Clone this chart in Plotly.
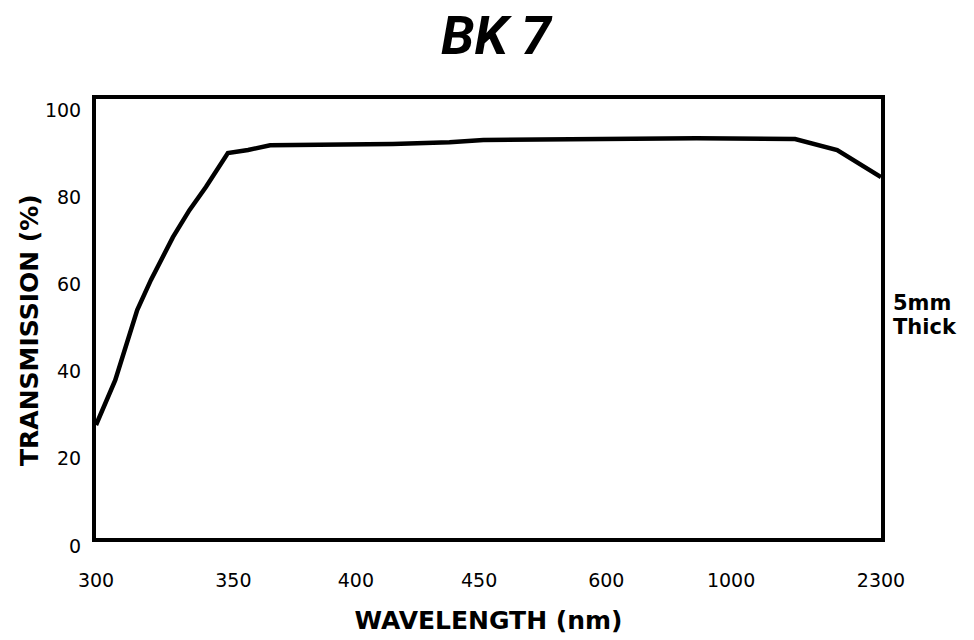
import numpy as np
import plotly.graph_objects as go

# Wavelength tick labels (nm) and their places along the broken x scale
tick_wavelengths = [300, 350, 400, 450, 600, 1000, 2300]
tick_positions = [0.0, 0.175, 0.331, 0.488, 0.650, 0.809, 1.0]

# Transmission curve of BK 7 glass, 5 mm thick
wavelength_nm = [300, 307, 315, 320, 328, 334, 340, 348, 356, 365,
                 415, 438, 455, 593, 890, 1555, 1920, 2300]
transmission_pct = [25.9, 36.2, 52.3, 59.2, 69.0, 75.2, 80.5, 88.3, 89.0, 90.1,
                    90.4, 90.8, 91.3, 91.5, 91.7, 91.5, 89.0, 82.8]

y_ticks = [0, 20, 40, 60, 80, 100]

# piecewise scale: each labelled wavelength sits on its own tick
x_scaled = np.interp(wavelength_nm, tick_wavelengths, tick_positions)

fig = go.Figure()
fig.add_trace(go.Scatter(
    x=x_scaled, y=transmission_pct, mode="lines",
    line=dict(color="black", width=4.5),
    hoverinfo="skip", showlegend=False,
))

tick_font = dict(family="DejaVu Sans", size=19, color="black")
title_font = dict(family="DejaVu Sans", size=25, color="black", weight="bold")
note_font = dict(family="DejaVu Sans", size=21, color="black", weight="bold")

fig.update_layout(
    width=974, height=640,
    margin=dict(l=96, r=93, t=99, b=102),
    paper_bgcolor="white", plot_bgcolor="white",
    title=dict(
        text="BK 7", x=496 / 974, xref="container", xanchor="center",
        y=1 - 35 / 640, yref="container", yanchor="middle",
        font=dict(family="Roboto, Liberation Sans, sans-serif",
                  size=54, color="black", weight="bold", style="italic"),
    ),
    xaxis=dict(
        range=[0, 1], tickmode="array", automargin=False,
        tickvals=tick_positions, ticktext=[str(w) for w in tick_wavelengths],
        showgrid=False, zeroline=False,
        showline=True, linecolor="black", linewidth=4, mirror=True,
        ticks="", ticklabelstandoff=22, tickfont=tick_font,
        title=dict(text="WAVELENGTH (nm)", font=title_font, standoff=23),
    ),
    yaxis=dict(
        range=[0, 100.7], tickmode="array", tickvals=y_ticks, automargin=False,
        showgrid=False, zeroline=False,
        showline=True, linecolor="black", linewidth=4, mirror=True,
        ticks="", ticklabelstandoff=7, ticklabelshift=8, tickfont=tick_font,
    ),
    annotations=[
        dict(text="TRANSMISSION (%)", textangle=-90, showarrow=False,
             xref="paper", yref="paper",
             x=-(96 - 29) / 785, y=(538 - 330) / 439,
             xanchor="center", yanchor="middle", font=title_font),
        dict(text="5mm", showarrow=False, xref="paper", yref="paper",
             x=(891 - 96) / 785, y=(538 - 303) / 439,
             xanchor="left", yanchor="middle", font=note_font),
        dict(text="Thick", showarrow=False, xref="paper", yref="paper",
             x=(891 - 96) / 785, y=(538 - 327) / 439,
             xanchor="left", yanchor="middle", font=note_font),
    ],
)

fig.write_html("out.html")
